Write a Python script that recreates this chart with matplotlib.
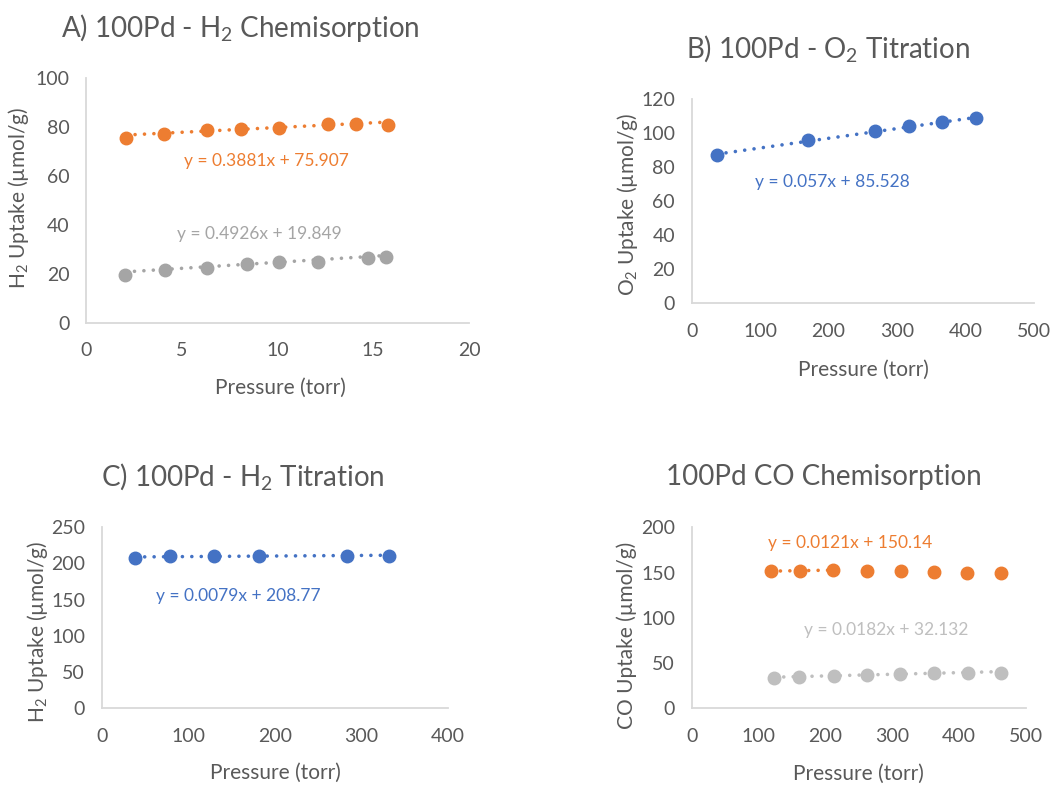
import matplotlib
matplotlib.use("Agg")
import matplotlib.pyplot as plt
import numpy as np

plt.rcParams['font.family'] = ['Lato', 'DejaVu Sans']
plt.rcParams['mathtext.fontset'] = 'custom'
plt.rcParams['mathtext.rm'] = 'Lato'
plt.rcParams['mathtext.it'] = 'Lato:italic'
plt.rcParams['mathtext.bf'] = 'Lato:bold'

# ---------------- data ----------------
# A) H2 chemisorption
a_orange_x = [2.07, 4.09, 6.32, 8.08, 10.1, 12.65, 14.1, 15.78]
a_orange_y = [75.4, 77.1, 78.6, 79.2, 79.6, 81.1, 81.1, 80.8]
a_grey_x = [2.04, 4.11, 6.33, 8.39, 10.06, 12.11, 14.73, 15.67]
a_grey_y = [19.6, 21.6, 22.6, 24.0, 25.0, 24.8, 26.4, 26.9]
a_orange_fit = (0.3881, 75.907)
a_grey_fit = (0.4926, 19.849)

# B) O2 titration
b_x = [36.5, 170.3, 267.7, 317.9, 365.6, 415.7]
b_y = [86.9, 95.7, 101.0, 104.1, 106.3, 108.7]
b_fit = (0.057, 85.528)

# C) H2 titration
c_x = [38.8, 79.0, 130.2, 182.2, 283.2, 331.8]
c_y = [207.2, 210.0, 210.8, 210.8, 210.0, 210.8]
c_fit = (0.0079, 208.77)

# D) CO chemisorption
d_orange_x = [118.7, 162.1, 211.5, 262.4, 313.0, 363.0, 412.8, 462.6]
d_orange_y = [151.4, 152.0, 152.5, 151.7, 151.4, 150.6, 149.8, 149.5]
d_grey_x = [123.7, 160.1, 212.5, 262.9, 311.8, 363.2, 413.2, 462.6]
d_grey_y = [33.1, 34.6, 36.0, 36.8, 37.6, 39.0, 39.0, 39.3]
d_orange_fit = (0.0121, 150.14)
d_orange_fit_n = 3   # trendline covers the first three points
d_grey_fit = (0.0182, 32.132)

ORANGE = '#ED7D31'
GREY = '#A5A5A5'
LGREY = '#BFBFBF'
BLUE = '#4472C4'
TXT = '#595959'
SPINE = '#D9D9D9'

fig = plt.figure(figsize=(10.64, 7.85), dpi=100)


def W(px):
    return px / 1064


def H(py):
    return 1 - py / 785


def make_ax(l, r, t, b, xlim, ylim, xticks, yticks):
    ax = fig.add_axes([W(l), H(b), W(r - l), (b - t) / 785])
    ax.set_xlim(*xlim)
    ax.set_ylim(*ylim)
    ax.set_xticks(xticks)
    ax.set_yticks(yticks)
    for s in ['top', 'right']:
        ax.spines[s].set_visible(False)
    for s in ['left', 'bottom']:
        ax.spines[s].set_color(SPINE)
        ax.spines[s].set_linewidth(1.3)
        ax.spines[s].set_zorder(0)
    ax.tick_params(length=0, labelsize=14, colors=TXT)
    ax.tick_params(axis='x', pad=14)
    ax.tick_params(axis='y', pad=12)
    ax.patch.set_alpha(0)
    return ax


def series(ax, x, y, fit, color, n=None):
    x = np.asarray(x)
    ax.plot(x, y, 'o', color=color, markersize=9, clip_on=False, zorder=3)
    xs = x if n is None else x[:n]
    xx = np.array([xs.min(), xs.max()])
    ax.plot(xx, fit[0] * xx + fit[1], linestyle=(0, (0.01, 2.6)),
            color=color, linewidth=2.6, zorder=2,
            dash_capstyle='round')


def eq(ax, x, y, fit, color):
    ax.text(x, y, f"y = {fit[0]}x + {fit[1]}", color=color, fontsize=12.5,
            ha='center', va='center')


# ---- A ----
axA = make_ax(86, 469, 78, 323, (0, 20), (0, 100), [0, 5, 10, 15, 20],
              [0, 20, 40, 60, 80, 100])
series(axA, a_orange_x, a_orange_y, a_orange_fit, ORANGE)
series(axA, a_grey_x, a_grey_y, a_grey_fit, GREY)
eq(axA, 9.4, 66.2, a_orange_fit, ORANGE)
eq(axA, 9.07, 36.2, a_grey_fit, GREY)

# ---- B ----
axB = make_ax(691.7, 1034, 99, 303.3, (0, 500), (0, 120),
              [0, 100, 200, 300, 400, 500], [0, 20, 40, 60, 80, 100, 120])
series(axB, b_x, b_y, b_fit, BLUE)
eq(axB, 206, 71.4, b_fit, BLUE)

# ---- C ----
axC = make_ax(101.7, 447.7, 527.3, 708.3, (0, 400), (0, 250),
              [0, 100, 200, 300, 400], [0, 50, 100, 150, 200, 250])
series(axC, c_x, c_y, c_fit, BLUE)
eq(axC, 158, 155, c_fit, BLUE)

# ---- D ----
axD = make_ax(691.7, 1025.7, 527.3, 708.3, (0, 500), (0, 200),
              [0, 100, 200, 300, 400, 500], [0, 50, 100, 150, 200])
series(axD, d_orange_x, d_orange_y, d_orange_fit, ORANGE, n=d_orange_fit_n)
series(axD, d_grey_x, d_grey_y, d_grey_fit, LGREY)
eq(axD, 237.7, 183, d_orange_fit, ORANGE)
eq(axD, 290.6, 86.5, d_grey_fit, LGREY)

# ---- titles ----
TSIZE = 20
fig.text(W(240), H(28), r"A) 100Pd - H$_2$ Chemisorption", fontsize=TSIZE,
         color=TXT, ha='center', va='center')
fig.text(W(828), H(48), r"B) 100Pd - O$_2$ Titration", fontsize=TSIZE,
         color=TXT, ha='center', va='center')
fig.text(W(243), H(477), r"C) 100Pd - H$_2$ Titration", fontsize=TSIZE,
         color=TXT, ha='center', va='center')
fig.text(W(824), H(477), "100Pd CO Chemisorption", fontsize=TSIZE,
         color=TXT, ha='center', va='center')

# ---- axis labels ----
LSIZE = 15
for (x, y) in [(280, 388), (863, 370), (275, 773), (858, 774)]:
    fig.text(W(x), H(y), "Pressure (torr)", fontsize=LSIZE, color=TXT,
             ha='center', va='center')
fig.text(W(19), H(198), r"H$_2$ Uptake (µmol/g)", fontsize=LSIZE, color=TXT,
         ha='center', va='center', rotation=90)
fig.text(W(627), H(204), r"O$_2$ Uptake (µmol/g)", fontsize=LSIZE, color=TXT,
         ha='center', va='center', rotation=90)
fig.text(W(38), H(632), r"H$_2$ Uptake (µmol/g)", fontsize=LSIZE, color=TXT,
         ha='center', va='center', rotation=90)
fig.text(W(627), H(635), "CO Uptake (µmol/g)", fontsize=LSIZE, color=TXT,
         ha='center', va='center', rotation=90)

fig.savefig("out.png", dpi=100, facecolor='white')
